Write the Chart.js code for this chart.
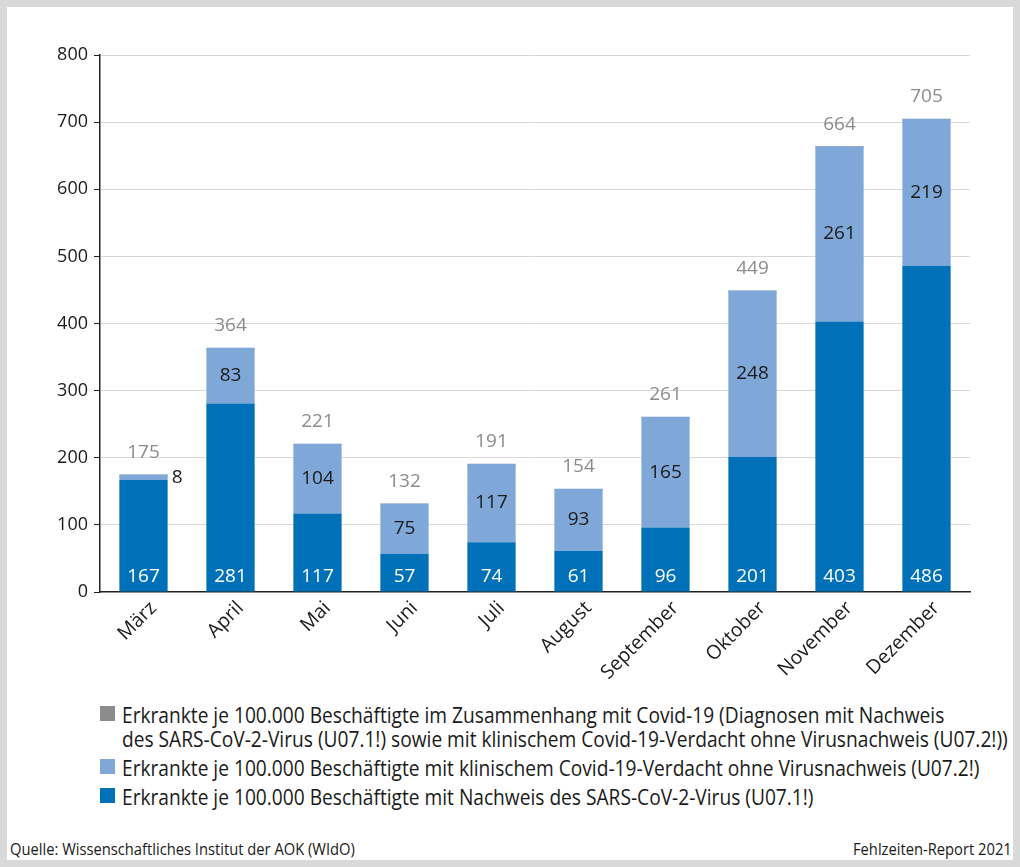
<!DOCTYPE html>
<html><head><meta charset="utf-8">
<script src="https://cdn.jsdelivr.net/npm/chart.js@4/dist/chart.umd.min.js"></script>
<style>
html,body{margin:0;padding:0;background:#fff;}
#frame{position:absolute;left:0;top:0;width:1006px;height:853px;border:7px solid #d9d9d9;background:#fff;}
#wrap{position:absolute;left:0;top:0;width:1020px;height:700px;}
.cond{font-family:"Open Sans",sans-serif;white-space:nowrap;transform-origin:0 0;}
#legend{position:absolute;left:100px;top:703px;font-size:21px;color:#1a1a1a;line-height:24px;}
.li{position:relative;margin-bottom:4px;}
.sw{position:absolute;left:0;top:3px;width:15px;height:15px;}
.tx{display:inline-block;margin-left:22px;transform:scaleX(0.912);transform-origin:0 0;}
#src{position:absolute;left:10px;top:838px;font-size:16px;color:#1a1a1a;transform:scaleX(0.92);}
#rep{position:absolute;left:853px;top:838px;font-size:16px;color:#1a1a1a;transform:scaleX(0.92);}
</style></head>
<body>
<div id="frame"></div>
<div id="wrap"><canvas id="c" width="1020" height="700"></canvas></div>
<div id="legend"></div>
<div id="src" class="cond">Quelle: Wissenschaftliches Institut der AOK (WIdO)</div>
<div id="rep" class="cond">Fehlzeiten-Report 2021</div>
<script>
const months = ["März","April","Mai","Juni","Juli","August","September","Oktober","November","Dezember"];
const confirmed = [167,281,117,57,74,61,96,201,403,486];
const suspected = [8,83,104,75,117,93,165,248,261,219];
const totals = [175,364,221,132,191,154,261,449,664,705];
const yTicks = [0,100,200,300,400,500,600,700,800];
const legendLabels = [
  "Erkrankte je 100.000 Beschäftigte im Zusammenhang mit Covid-19 (Diagnosen mit Nachweis<br>des SARS-CoV-2-Virus (U07.1!) sowie mit klinischem Covid-19-Verdacht ohne Virusnachweis (U07.2!))",
  "Erkrankte je 100.000 Beschäftigte mit klinischem Covid-19-Verdacht ohne Virusnachweis (U07.2!)",
  "Erkrankte je 100.000 Beschäftigte mit Nachweis des SARS-CoV-2-Virus (U07.1!)"
];
const cDark="#0071b8", cLight="#7fa8d9", cGray="#8c8c8c";
const legendColors=[cGray,cLight,cDark];

const lg=document.getElementById('legend');
legendLabels.forEach((t,i)=>{
  const d=document.createElement('div');d.className='li';
  d.innerHTML='<span class="sw" style="background:'+legendColors[i]+'"></span><span class="tx cond">'+t+'</span>';
  lg.appendChild(d);
});

const tickFont={family:"'Open Sans', sans-serif",size:18};
const labelPlugin={
  id:'labels',
  afterDatasetsDraw(chart){
    const ctx=chart.ctx;
    ctx.save();
    ctx.font="19px 'Open Sans', sans-serif";
    ctx.textBaseline='middle';
    const m0=chart.getDatasetMeta(0), m1=chart.getDatasetMeta(1), m2=chart.getDatasetMeta(2);
    m0.data.forEach((b,i)=>{
      ctx.fillStyle='#fff';ctx.textAlign='center';
      ctx.fillText(String(confirmed[i]),b.x,b.base-15);
    });
    m1.data.forEach((b,i)=>{
      const h=b.base-b.y;
      ctx.fillStyle='#1a1a1a';
      if(h<25){ctx.textAlign='left';ctx.fillText(String(suspected[i]),b.x+b.width/2+4,(b.y+b.base)/2);}
      else{ctx.textAlign='center';ctx.fillText(String(suspected[i]),b.x,(b.y+b.base)/2);}
    });
    m2.data.forEach((b,i)=>{
      ctx.fillStyle=cGray;ctx.textAlign='center';
      ctx.fillText(String(totals[i]),b.x,b.y-22);
    });
    // x category labels, rotated
    const xs=chart.scales.x;
    ctx.fillStyle='#1a1a1a';
    ctx.font="19.5px 'Open Sans', sans-serif";
    ctx.textAlign='right';ctx.textBaseline='middle';
    months.forEach((m,i)=>{
      const x=xs.getPixelForTick(i);
      ctx.save();
      ctx.translate(x+10,605);
      ctx.rotate(-Math.PI/4);
      ctx.fillText(m,0,0);
      ctx.restore();
    });
    ctx.restore();
  }
};

const common={barPercentage:0.555,categoryPercentage:1,grouped:false};
new Chart(document.getElementById('c'),{
  type:'bar',
  data:{labels:months,datasets:[
    Object.assign({label:legendLabels[2],data:confirmed,backgroundColor:cDark,stack:'s',borderWidth:0},common),
    Object.assign({label:legendLabels[1],data:suspected,backgroundColor:cLight,stack:'s',borderWidth:0},common),
    Object.assign({label:'total',data:totals,backgroundColor:'rgba(0,0,0,0)',borderColor:cGray,borderWidth:{top:2,left:0,right:0,bottom:0},borderSkipped:false,stack:'t'},common)
  ]},
  options:{
    responsive:false,animation:false,
    layout:{padding:{left:0,top:55,right:50,bottom:0}},
    plugins:{legend:{display:false},tooltip:{enabled:false}},
    scales:{
      x:{stacked:true,grid:{display:false},border:{color:'#222',width:1.5},
        ticks:{display:false},
        afterFit(s){s.height=108;}},
      y:{stacked:true,min:0,max:800,
        afterBuildTicks(s){s.ticks=yTicks.map(v=>({value:v}));},
        grid:{color:(c)=>c.tick&&c.tick.value===0?'rgba(0,0,0,0)':'#d9d9d9',tickColor:'#222',tickLength:6,lineWidth:1},
        border:{color:'#222',width:1.5},
        ticks:{color:'#1a1a1a',font:tickFont,padding:6},
        afterFit(s){s.width=100;}}
    }
  },
  plugins:[labelPlugin]
});
</script>
</body></html>
